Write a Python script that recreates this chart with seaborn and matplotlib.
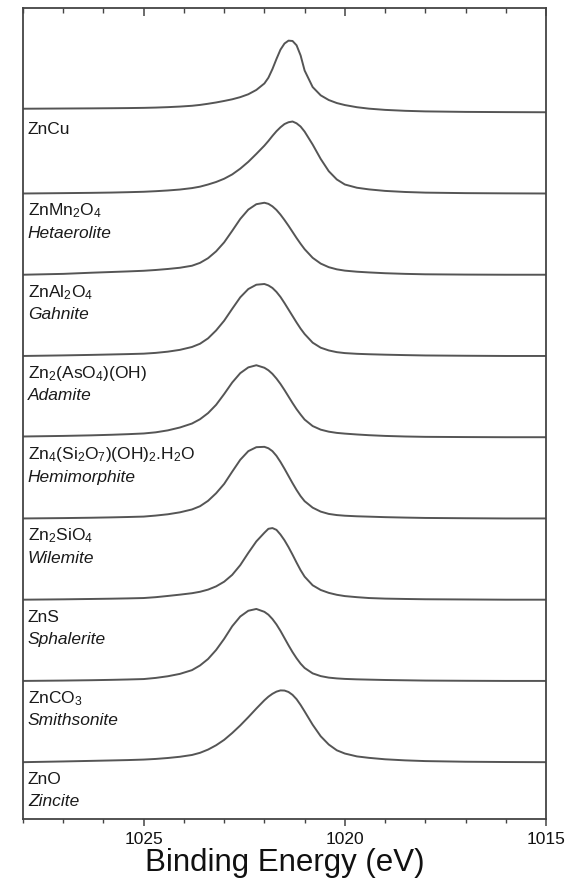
import matplotlib
matplotlib.use("Agg")
import matplotlib.pyplot as plt
from matplotlib.ticker import MultipleLocator
import seaborn as sns
import pandas as pd

# Binding energy grid (eV)
energy = [1028.0, 1027.0, 1026.3, 1025.8, 1025.4, 1025.0, 1024.7, 1024.4, 1024.1, 1023.8,
          1023.6, 1023.4, 1023.2, 1023.0, 1022.8, 1022.6, 1022.4, 1022.2, 1022.0, 1021.9,
          1021.8, 1021.7, 1021.6, 1021.5, 1021.4, 1021.3, 1021.2, 1021.1, 1021.0, 1020.8,
          1020.6, 1020.4, 1020.2, 1020.0, 1019.7, 1019.4, 1019.0, 1018.5, 1018.0, 1017.0,
          1016.0, 1015.0]

# Normalised Zn 2p3/2 intensities, top trace first
zncu = [0.049, 0.052, 0.054, 0.056, 0.058, 0.061, 0.065, 0.071, 0.079, 0.09,
        0.102, 0.118, 0.136, 0.157, 0.18, 0.21, 0.25, 0.31, 0.40, 0.48,
        0.60, 0.74, 0.87, 0.955, 0.995, 0.99, 0.93, 0.79, 0.58, 0.35,
        0.235, 0.17, 0.128, 0.10, 0.07, 0.05, 0.033, 0.02, 0.012, 0.005,
        0.002, 0.0]
znmn2o4 = [0.0, 0.005, 0.009, 0.013, 0.018, 0.024, 0.032, 0.042, 0.055, 0.075,
           0.095, 0.125, 0.16, 0.205, 0.265, 0.345, 0.44, 0.55, 0.665, 0.73,
           0.80, 0.865, 0.92, 0.965, 0.99, 1.0, 0.975, 0.93, 0.86, 0.68,
           0.48, 0.31, 0.195, 0.125, 0.08, 0.057, 0.036, 0.021, 0.012, 0.005,
           0.002, 0.0]
znal2o4 = [0.0, 0.012, 0.028, 0.038, 0.046, 0.055, 0.066, 0.08, 0.097, 0.125,
           0.165, 0.23, 0.325, 0.45, 0.61, 0.775, 0.905, 0.98, 1.0, 0.985,
           0.95, 0.90, 0.835, 0.76, 0.68, 0.595, 0.51, 0.43, 0.355, 0.235,
           0.155, 0.105, 0.075, 0.057, 0.042, 0.032, 0.021, 0.012, 0.006, 0.002,
           0.0, 0.0]
adamite = [0.0, 0.008, 0.015, 0.021, 0.026, 0.032, 0.043, 0.06, 0.085, 0.125,
           0.17, 0.245, 0.355, 0.49, 0.655, 0.815, 0.93, 0.99, 1.0, 0.98,
           0.945, 0.89, 0.82, 0.735, 0.645, 0.555, 0.465, 0.38, 0.305, 0.185,
           0.115, 0.077, 0.053, 0.04, 0.03, 0.024, 0.018, 0.012, 0.007, 0.003,
           0.0, 0.0]
hemimorphite = [0.01, 0.018, 0.026, 0.034, 0.042, 0.052, 0.068, 0.095, 0.135, 0.19,
                0.25, 0.335, 0.45, 0.60, 0.76, 0.89, 0.97, 1.0, 0.965, 0.93,
                0.88, 0.815, 0.74, 0.655, 0.565, 0.475, 0.39, 0.315, 0.245, 0.155,
                0.105, 0.077, 0.06, 0.05, 0.038, 0.028, 0.018, 0.01, 0.005, 0.002,
                0.0, 0.0]
wilemite = [0.0, 0.005, 0.01, 0.015, 0.02, 0.026, 0.04, 0.058, 0.085, 0.125,
            0.17, 0.245, 0.35, 0.48, 0.65, 0.815, 0.935, 0.99, 0.995, 0.975,
            0.935, 0.87, 0.785, 0.69, 0.59, 0.49, 0.395, 0.31, 0.24, 0.15,
            0.095, 0.063, 0.047, 0.038, 0.03, 0.025, 0.018, 0.012, 0.007, 0.003,
            0.0, 0.0]
sphalerite = [0.0, 0.005, 0.01, 0.014, 0.018, 0.023, 0.035, 0.052, 0.07, 0.09,
              0.11, 0.14, 0.185, 0.25, 0.345, 0.48, 0.65, 0.81, 0.93, 0.985,
              0.995, 0.97, 0.905, 0.825, 0.73, 0.625, 0.515, 0.41, 0.32, 0.20,
              0.135, 0.095, 0.068, 0.05, 0.035, 0.023, 0.015, 0.01, 0.006, 0.003,
              0.0, 0.0]
smithsonite = [0.0, 0.005, 0.01, 0.015, 0.02, 0.026, 0.042, 0.065, 0.098, 0.15,
               0.215, 0.305, 0.43, 0.585, 0.76, 0.895, 0.975, 1.0, 0.96, 0.92,
               0.86, 0.785, 0.695, 0.595, 0.495, 0.40, 0.315, 0.24, 0.18, 0.105,
               0.067, 0.046, 0.035, 0.028, 0.022, 0.018, 0.013, 0.009, 0.005, 0.002,
               0.0, 0.0]
zincite = [0.0, 0.01, 0.018, 0.024, 0.029, 0.036, 0.045, 0.058, 0.075, 0.10,
           0.13, 0.175, 0.235, 0.31, 0.405, 0.51, 0.625, 0.745, 0.86, 0.91,
           0.95, 0.98, 0.997, 0.995, 0.975, 0.935, 0.875, 0.795, 0.705, 0.52,
           0.36, 0.245, 0.165, 0.12, 0.08, 0.06, 0.04, 0.025, 0.015, 0.006,
           0.002, 0.0]

spectra = [zncu, znmn2o4, znal2o4, adamite, hemimorphite, wilemite, sphalerite, smithsonite, zincite]
for s in spectra:
    assert len(s) == len(energy)

# Labels placed under each trace (formula, mineral name)
formulas = ["ZnCu", "ZnMn$_2$O$_4$", "ZnAl$_2$O$_4$", "Zn$_2$(AsO$_4$)(OH)",
            "Zn$_4$(Si$_2$O$_7$)(OH)$_2$.H$_2$O", "Zn$_2$SiO$_4$", "ZnS", "ZnCO$_3$", "ZnO"]
minerals = ["", "Hetaerolite", "Gahnite", "Adamite", "Hemimorphite", "Wilemite",
            "Sphalerite", "Smithsonite", "Zincite"]
x_ticks = [1025, 1020, 1015]
x_label = "Binding Energy (eV)"

sns.set_theme(style="white")
plt.rcParams["font.family"] = ["Liberation Sans", "DejaVu Sans"]
plt.rcParams["mathtext.fontset"] = "custom"
plt.rcParams["mathtext.rm"] = "Liberation Sans"
plt.rcParams["mathtext.it"] = "Liberation Sans:italic"

fig = plt.figure(figsize=(5.83, 8.89), dpi=100)
ax = fig.add_axes([0.0395, 0.0787, 0.897, 0.912])

n = len(spectra)
scale = 0.886
line_col = "#555555"
rows = []
for i, spec in enumerate(spectra):
    off = n - 1 - i
    for e, v in zip(energy, spec):
        rows.append({"energy": e, "signal": off + scale * v, "trace": i})
df = pd.DataFrame(rows)
sns.lineplot(data=df, x="energy", y="signal", units="trace", estimator=None,
             sort=False, color=line_col, linewidth=1.4, ax=ax, legend=False)

for i in range(n):
    off = n - 1 - i
    ax.text(1027.88, off - 0.215, formulas[i], fontsize=12.5, color="#1a1a1a",
            ha="left", va="center")
    if minerals[i]:
        ax.text(1027.88, off - 0.49, minerals[i], fontsize=12.5, color="#1a1a1a",
                ha="left", va="center", fontstyle="italic")

ax.set_xlim(1028.0, 1015.0)
ax.set_ylim(-0.70, 9.28)
ax.set_xticks(x_ticks)
ax.xaxis.set_minor_locator(MultipleLocator(1))
ax.set_yticks([])
ax.set_xlabel(x_label, fontsize=22.5, color="#111111", labelpad=1)
ax.set_ylabel("")

for s in ax.spines.values():
    s.set_color("#444444")
    s.set_linewidth(1.3)

ax.tick_params(axis="x", which="major", direction="out", length=5, width=1.1,
               color="#444444", labelsize=12.5, labelcolor="#111111", pad=4,
               bottom=True, top=False)
ax.tick_params(axis="x", which="minor", direction="out", length=3, width=1.0,
               color="#444444", bottom=True, top=False)
ax2 = ax.secondary_xaxis("top")
ax2.set_xticks(x_ticks)
ax2.xaxis.set_minor_locator(MultipleLocator(1))
ax2.tick_params(axis="x", which="major", direction="in", length=6, width=1.1,
                color="#444444", labeltop=False)
ax2.tick_params(axis="x", which="minor", direction="in", length=3.5, width=1.0,
                color="#444444")
ax2.spines["top"].set_visible(False)

fig.savefig("out.png", dpi=100, facecolor="white")
